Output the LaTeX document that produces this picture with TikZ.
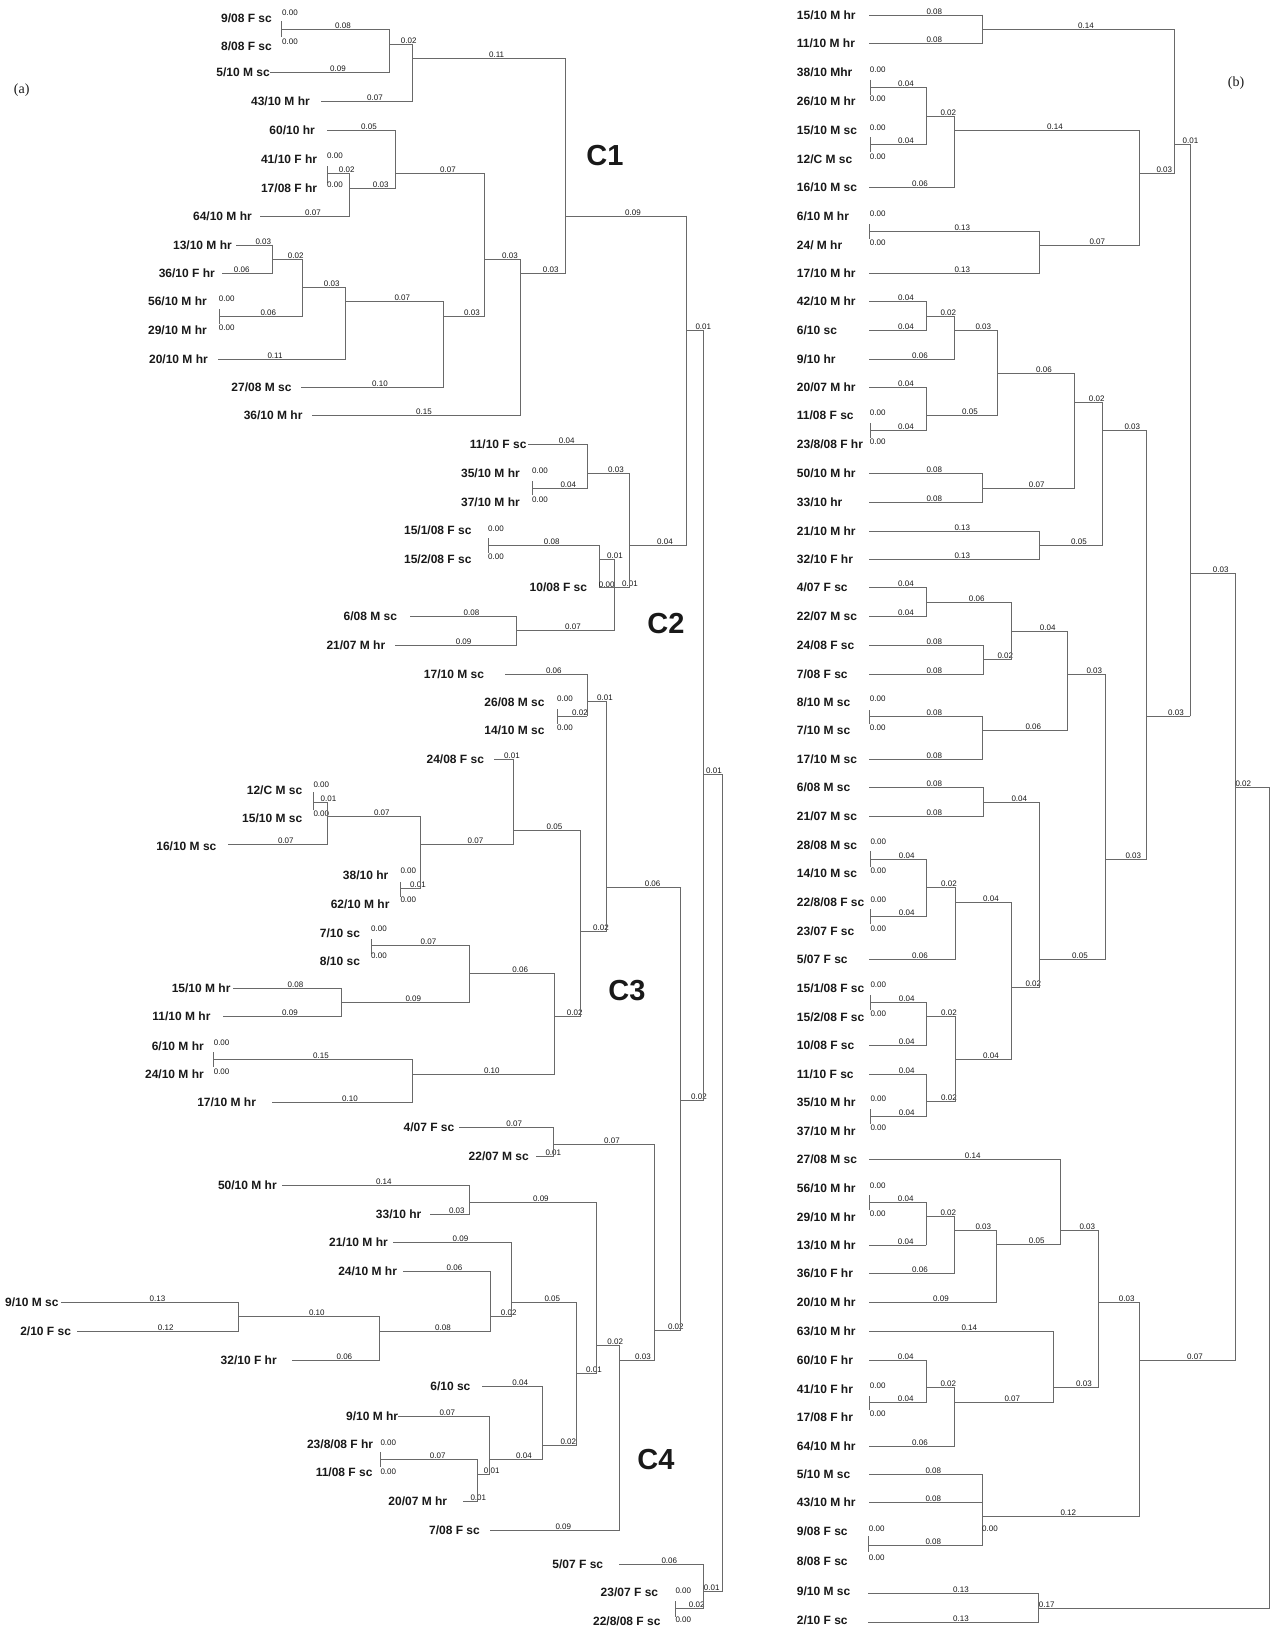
\documentclass[tikz,border=0pt]{standalone}
\usepackage{fontspec}
\setmainfont{Liberation Serif}
\newfontfamily\labfont{Liberation Sans}
\definecolor{brcol}{RGB}{105,105,105}
\definecolor{txtcol}{RGB}{25,25,25}
\tikzset{
 br/.style={draw=brcol, line width=0.9pt, line cap=rect},
 num/.style={font=\labfont\fontsize{8}{9}\selectfont, anchor=south, inner sep=0pt, yshift=0.6pt, text=txtcol},
 zer/.style={font=\labfont\fontsize{8}{9}\selectfont, inner sep=0pt, text=txtcol},
 lfa/.style={font=\labfont\bfseries\fontsize{12}{14}\selectfont, anchor=east, inner sep=0pt, text=txtcol},
 lfb/.style={font=\labfont\bfseries\fontsize{12}{14}\selectfont, anchor=west, inner sep=0pt, text=txtcol},
 clus/.style={font=\labfont\bfseries\fontsize{29}{32}\selectfont, inner sep=0pt, text=txtcol},
 pan/.style={font=\fontsize{14}{16}\selectfont, inner sep=0pt, text=txtcol}
}
\newcommand\Hb[5]{\draw[br] (#1,#3) -- (#2,#3); \node[num] at (#5,#3) {#4};}
\newcommand\Vb[3]{\draw[br] (#1,#2) -- (#1,#3);}
\newcommand\Zl[2]{\node[zer] at (#1,#2) {0.00};}
\begin{document}
\begin{tikzpicture}[x=1pt,y=-1pt]
\fill[white] (0,0) rectangle (1271,1629);
\useasboundingbox (0,0) rectangle (1271,1629);

% panel labels and clusters
\node[pan] (pa) at (21.7,90) {(a)};
\node[pan] (pb) at (1236,83.3) {(b)};
\node[clus] (c1) at (605,156) {C1};
\node[clus] (c2) at (666,624) {C2};
\node[clus] (c3) at (627,991) {C3};
\node[clus] (c4) at (656,1459) {C4};

% ===== left tree leaves =====
\node[lfa] (a1) at (272,18.3) {9/08 F sc};
\node[lfa] (a2) at (272,46.7) {8/08 F sc};
\node[lfa] (a3) at (270,72.7) {5/10 M sc};
\node[lfa] (a4) at (310,101.7) {43/10 M hr};
\node[lfa] (a5) at (315,130.7) {60/10 hr};
\node[lfa] (a6) at (317.3,159.3) {41/10 F hr};
\node[lfa] (a7) at (317.3,188.3) {17/08 F hr};
\node[lfa] (a8) at (252,216) {64/10 M hr};
\node[lfa] (a9) at (232,245) {13/10 M hr};
\node[lfa] (a10) at (215,273.3) {36/10 F hr};
\node[lfa] (a11) at (207,301.7) {56/10 M hr};
\node[lfa] (a12) at (207,330.5) {29/10 M hr};
\node[lfa] (a13) at (208,359.3) {20/10 M hr};
\node[lfa] (a14) at (291.7,387.7) {27/08 M sc};
\node[lfa] (a15) at (302.7,415.3) {36/10 M hr};
\node[lfa] (a16) at (526.7,444.7) {11/10 F sc};
\node[lfa] (a17) at (520,473.3) {35/10 M hr};
\node[lfa] (a18) at (520,502) {37/10 M hr};
\node[lfa] (a19) at (471.7,530.7) {15/1/08 F sc};
\node[lfa] (a20) at (471.7,559.3) {15/2/08 F sc};
\node[lfa] (a21) at (587.3,587.7) {10/08 F sc};
\node[lfa] (a22) at (397.3,616) {6/08 M sc};
\node[lfa] (a23) at (385.4,645.3) {21/07 M hr};
\node[lfa] (a24) at (484.2,674.3) {17/10 M sc};
\node[lfa] (a25) at (544.7,702) {26/08 M sc};
\node[lfa] (a26) at (544.7,730.7) {14/10 M sc};
\node[lfa] (a27) at (484.2,759.3) {24/08 F sc};
\node[lfa] (a28) at (302.4,790) {12/C M sc};
\node[lfa] (a29) at (302.4,818) {15/10 M sc};
\node[lfa] (a30) at (216.6,846) {16/10 M sc};
\node[lfa] (a31) at (388.5,875) {38/10 hr};
\node[lfa] (a32) at (389.7,904) {62/10 M hr};
\node[lfa] (a33) at (360.2,933.3) {7/10 sc};
\node[lfa] (a34) at (360.2,961) {8/10 sc};
\node[lfa] (a35) at (230.7,988) {15/10 M hr};
\node[lfa] (a36) at (210.7,1016.7) {11/10 M hr};
\node[lfa] (a37) at (204,1046) {6/10 M hr};
\node[lfa] (a38) at (204,1074.7) {24/10 M hr};
\node[lfa] (a39) at (256.2,1102) {17/10 M hr};
\node[lfa] (a40) at (454.5,1127.3) {4/07 F sc};
\node[lfa] (a41) at (528.9,1156) {22/07 M sc};
\node[lfa] (a42) at (276.9,1185.3) {50/10 M hr};
\node[lfa] (a43) at (421.5,1214) {33/10 hr};
\node[lfa] (a44) at (388,1242) {21/10 M hr};
\node[lfa] (a45) at (397.2,1271) {24/10 M hr};
\node[lfa] (a46) at (58.8,1302.7) {9/10 M sc};
\node[lfa] (a47) at (71.2,1331.7) {2/10 F sc};
\node[lfa] (a48) at (276.9,1360) {32/10 F hr};
\node[lfa] (a49) at (470.6,1386.7) {6/10 sc};
\node[lfa] (a50) at (398.3,1416) {9/10 M hr};
\node[lfa] (a51) at (373.3,1444) {23/8/08 F hr};
\node[lfa] (a52) at (372.7,1472.7) {11/08 F sc};
\node[lfa] (a53) at (447.3,1501) {20/07 M hr};
\node[lfa] (a54) at (480,1530.7) {7/08 F sc};
\node[lfa] (a55) at (603.3,1564) {5/07 F sc};
\node[lfa] (a56) at (658.3,1592.7) {23/07 F sc};
\node[lfa] (a57) at (660.7,1621.7) {22/8/08 F sc};

% ===== left tree branches =====
% C1
\Vb{281.7}{21.7}{36.7} \Zl{290}{12.7} \Zl{290}{41.3}
\Hb{281.7}{389}{29.7}{0.08}{343}
\Hb{270}{389}{72.7}{0.09}{338}
\Vb{389}{29.7}{72.7}
\Hb{389}{412}{44}{0.02}{408.7}
\Hb{321.7}{412}{101.7}{0.07}{375}
\Vb{412}{44}{101.7}
\Hb{412}{565.7}{58.3}{0.11}{496.7}
\Hb{327.7}{395.3}{130.7}{0.05}{369}
\Vb{327.3}{166.7}{182.7} \Zl{335}{156} \Zl{335}{185}
\Hb{327.3}{349.7}{173.3}{0.02}{346.7}
\Hb{260}{349.7}{216}{0.07}{313}
\Vb{349.7}{173.3}{216}
\Hb{349.7}{395.3}{188.3}{0.03}{380.7}
\Vb{395.3}{130.7}{188.3}
\Hb{395.3}{484.3}{173.3}{0.07}{448}
\Hb{236.7}{272.3}{245}{0.03}{263.3}
\Hb{222}{272.3}{273.3}{0.06}{241.7}
\Vb{272.3}{245}{273.3}
\Hb{272.3}{302.3}{259.3}{0.02}{295.7}
\Vb{219.3}{309.3}{323.3} \Zl{226.7}{299} \Zl{226.7}{327.7}
\Hb{219.3}{302.3}{316}{0.06}{268.3}
\Vb{302.3}{259.3}{316}
\Hb{302.3}{345}{287.3}{0.03}{331.7}
\Hb{218}{345}{359.3}{0.11}{275}
\Vb{345}{287.3}{359.3}
\Hb{345}{443.3}{301.7}{0.07}{402.3}
\Hb{301}{443.3}{387.7}{0.10}{380}
\Vb{443.3}{301.7}{387.7}
\Hb{443.3}{484.3}{316}{0.03}{472}
\Vb{484.3}{173.3}{316}
\Hb{484.3}{520}{259.3}{0.03}{510}
\Hb{312.7}{520}{415.3}{0.15}{424}
\Vb{520}{259.3}{415.3}
\Hb{520}{565.7}{273.3}{0.03}{550.7}
\Vb{565.7}{58.3}{273.3}
\Hb{565.7}{686}{216}{0.09}{633}
% C2
\Hb{528}{587.3}{444.7}{0.04}{566.7}
\Vb{532.3}{481}{495} \Zl{540}{470.7} \Zl{540}{499.3}
\Hb{532.3}{587.3}{488.3}{0.04}{568.3}
\Vb{587.3}{444.7}{488.3}
\Hb{587.3}{629}{473.3}{0.03}{616}
\Vb{488.3}{538}{553} \Zl{496}{528.7} \Zl{496}{556.7}
\Hb{488.3}{599.3}{545.7}{0.08}{551.7}
\Vb{599.3}{545.7}{587.7}
\Zl{606.7}{585}
\Hb{599.3}{614.3}{559.3}{0.01}{615}
\Hb{599.3}{629}{587.7}{0.01}{630}
\Vb{614.3}{559.3}{630.7}
\Vb{629}{473.3}{587.7}
\Hb{629}{686}{545.7}{0.04}{665}
\Hb{410}{516.2}{616}{0.08}{471.5}
\Hb{395.6}{516.2}{645.3}{0.09}{463.6}
\Vb{516.2}{616}{645.3}
\Hb{516.2}{614.3}{630.7}{0.07}{573}
\Vb{686}{216}{545.7}
\Hb{686}{703.3}{330}{0.01}{703.3}
% C3
\Hb{505}{587}{674.3}{0.06}{553.8}
\Vb{557.3}{709}{723.3} \Zl{565}{699} \Zl{565}{727.7}
\Hb{557.3}{587}{716}{0.02}{580}
\Vb{587}{674.3}{716}
\Hb{587}{606.7}{701.7}{0.01}{605}
\Hb{494.5}{513.8}{759.3}{0.01}{512}
\Vb{313.4}{792.7}{810} \Zl{321.3}{785} \Zl{321.3}{813.3}
\Hb{313.4}{327.3}{802.3}{0.01}{328.5}
\Hb{228.5}{327.3}{844.3}{0.07}{285.8}
\Vb{327.3}{802.3}{844.3}
\Hb{327.3}{420}{816}{0.07}{381.8}
\Vb{400.4}{882.7}{896.7} \Zl{408.3}{870.7} \Zl{408.3}{899.3}
\Hb{400.4}{420}{888.3}{0.01}{418}
\Vb{420}{816}{888.3}
\Hb{420}{513.8}{844.3}{0.07}{475.5}
\Vb{513.8}{759.3}{844.3}
\Hb{513.8}{580.2}{830}{0.05}{554.5}
\Vb{371.8}{939.3}{953.3} \Zl{379}{928.3} \Zl{379}{956}
\Hb{371.8}{469.3}{945}{0.07}{428.5}
\Hb{233.6}{341.6}{988}{0.08}{295.5}
\Hb{223.5}{341.6}{1016.7}{0.09}{290}
\Vb{341.6}{988}{1016.7}
\Hb{341.6}{469.3}{1002}{0.09}{413.3}
\Vb{469.3}{945}{1002}
\Hb{469.3}{554.7}{973.3}{0.06}{520.2}
\Vb{213.6}{1052.7}{1066.7} \Zl{221.6}{1042.3} \Zl{221.6}{1071.3}
\Hb{213.6}{412.5}{1059.3}{0.15}{321}
\Hb{272.5}{412.5}{1102}{0.10}{350}
\Vb{412.5}{1059.3}{1102}
\Hb{412.5}{554.7}{1074}{0.10}{491.8}
\Vb{554.7}{973.3}{1074}
\Hb{554.7}{580.2}{1016.7}{0.02}{574.7}
\Vb{580.2}{830}{1016.7}
\Hb{580.2}{606.7}{931.7}{0.02}{601}
\Vb{606.7}{701.7}{931.7}
\Hb{606.7}{681}{887.7}{0.06}{652.6}
% C4
\Hb{459}{553.3}{1127.3}{0.07}{514.2}
\Hb{536.2}{553.3}{1156}{0.01}{553.3}
\Vb{553.3}{1127.3}{1156}
\Hb{553.3}{654.3}{1144.3}{0.07}{612}
\Hb{282.4}{469.2}{1185.3}{0.14}{383.8}
\Hb{430.7}{469.2}{1214}{0.03}{456.8}
\Vb{469.2}{1185.3}{1214}
\Hb{469.2}{596}{1202.3}{0.09}{540.9}
\Hb{393.5}{511.9}{1242}{0.09}{460.5}
\Hb{403.1}{490.4}{1271}{0.06}{454.5}
\Hb{61}{238.3}{1302.7}{0.13}{157.5}
\Hb{77.1}{238.3}{1331.7}{0.12}{165.7}
\Vb{238.3}{1302.7}{1331.7}
\Hb{238.3}{379.2}{1316.7}{0.10}{316.8}
\Hb{292.9}{379.2}{1360}{0.06}{344.4}
\Vb{379.2}{1316.7}{1360}
\Hb{379.2}{490.4}{1331}{0.08}{443}
\Vb{490.4}{1271}{1331}
\Hb{490.4}{511.9}{1316.7}{0.02}{508.7}
\Vb{511.9}{1242}{1316.7}
\Hb{511.9}{576.2}{1302.3}{0.05}{552.3}
\Hb{482}{542.7}{1386.7}{0.04}{520.2}
\Hb{398.3}{489.3}{1416}{0.07}{447.3}
\Vb{380.7}{1452.7}{1466.7} \Zl{388.3}{1442.7} \Zl{388.3}{1471.3}
\Hb{380.7}{477.7}{1459.3}{0.07}{437.7}
\Hb{463.3}{477.7}{1501.7}{0.01}{478.3}
\Vb{477.7}{1459.3}{1501.7}
\Hb{477.7}{489.3}{1474}{0.01}{491.7}
\Vb{489.3}{1416}{1474}
\Hb{489.3}{542.7}{1459.3}{0.04}{524}
\Vb{542.7}{1386.7}{1459.3}
\Hb{542.7}{576.2}{1445}{0.02}{568.3}
\Vb{576.2}{1302.3}{1445}
\Hb{576.2}{596}{1373.3}{0.01}{594}
\Vb{596}{1202.3}{1373.3}
\Hb{596}{619.4}{1345.3}{0.02}{615.2}
\Hb{490.7}{619.4}{1530.7}{0.09}{563.3}
\Vb{619.4}{1345.3}{1530.7}
\Hb{619.4}{654.3}{1360}{0.03}{643}
\Vb{654.3}{1144.3}{1360}
\Hb{654.3}{680.7}{1330.7}{0.02}{675.8}
\Vb{680.7}{887.7}{1330.7}
\Hb{680.7}{703.3}{1100.6}{0.02}{699}
\Vb{703.3}{330}{1100.6}
\Hb{703.3}{722.3}{774.3}{0.01}{714}
\Vb{722.3}{774.3}{1591.7}
\Hb{619.3}{703.3}{1564}{0.06}{669.3}
\Vb{675}{1601.7}{1616.7} \Zl{683.3}{1591} \Zl{683.3}{1620}
\Hb{675}{703.3}{1608.3}{0.02}{696.7}
\Vb{703.3}{1564}{1608.3}
\Hb{703.3}{722.3}{1591.7}{0.01}{711.7}

% ===== right tree leaves =====
\foreach \n/\yy/\tx in {
 b1/15/15\slash10 M hr, b2/43.7/11\slash10 M hr, b3/72.3/38\slash10 Mhr,
 b4/101/26\slash10 M hr, b5/130/15\slash10 M sc, b6/159/12\slash C M sc,
 b7/187.7/16\slash10 M sc, b8/216.7/6\slash10 M hr, b9/245/24\slash{} M hr,
 b10/273.3/17\slash10 M hr, b11/301.7/42\slash10 M hr, b12/330.3/6\slash10 sc,
 b13/359/9\slash10 hr, b14/387.7/20\slash07 M hr, b15/415.7/11\slash08 F sc,
 b16/444.3/23\slash8\slash08 F hr, b17/473.3/50\slash10 M hr, b18/502.3/33\slash10 hr,
 b19/531/21\slash10 M hr, b20/559.3/32\slash10 F hr, b21/587.7/4\slash07 F sc,
 b22/616.7/22\slash07 M sc, b23/645.3/24\slash08 F sc, b24/674.3/7\slash08 F sc,
 b25/702/8\slash10 M sc, b26/730.7/7\slash10 M sc, b27/759.3/17\slash10 M sc,
 b28/787.7/6\slash08 M sc, b29/816.3/21\slash07 M sc, b30/845/28\slash08 M sc,
 b31/873.7/14\slash10 M sc, b32/902.7/22\slash8\slash08 F sc, b33/931.7/23\slash07 F sc,
 b34/959.3/5\slash07 F sc, b35/988.3/15\slash1\slash08 F sc, b36/1017/15\slash2\slash08 F sc,
 b37/1045.7/10\slash08 F sc, b38/1074.7/11\slash10 F sc, b39/1102.3/35\slash10 M hr,
 b40/1131/37\slash10 M hr, b41/1159.7/27\slash08 M sc, b42/1188.7/56\slash10 M hr,
 b43/1217.3/29\slash10 M hr, b44/1245/13\slash10 M hr, b45/1273.3/36\slash10 F hr,
 b46/1302.7/20\slash10 M hr, b47/1331.7/63\slash10 M hr, b48/1360.7/60\slash10 F hr,
 b49/1389/41\slash10 F hr, b50/1417.7/17\slash08 F hr, b51/1446/64\slash10 M hr,
 b52/1474.3/5\slash10 M sc, b53/1502.3/43\slash10 M hr, b54/1531.7/9\slash08 F sc,
 b55/1561/8\slash08 F sc, b56/1591/9\slash10 M sc, b57/1620/2\slash10 F sc}
 {\node[lfb] (\n) at (796.7,\yy) {\tx};}

% ===== right tree branches =====
\Hb{869.3}{982.3}{15}{0.08}{934.3}
\Hb{869.3}{982.3}{43.7}{0.08}{934.3}
\Vb{982.3}{15}{43.7}
\Hb{982.3}{1174.3}{29.7}{0.14}{1086}
\Vb{870}{80}{95} \Zl{877.7}{70} \Zl{877.7}{99}
\Hb{870}{926.3}{87.3}{0.04}{906}
\Vb{870}{137.7}{151.7} \Zl{877.7}{127.7} \Zl{877.7}{156.3}
\Hb{870}{926.3}{144.7}{0.04}{906}
\Vb{926.3}{87.3}{144.7}
\Hb{926.3}{954.3}{116.3}{0.02}{948.3}
\Hb{869.3}{954.3}{187.7}{0.06}{920}
\Vb{954.3}{116.3}{187.7}
\Hb{954.3}{1139}{130.3}{0.14}{1055}
\Vb{869.3}{224.3}{238.3} \Zl{877.7}{213.7} \Zl{877.7}{242.3}
\Hb{869.3}{1039.3}{231}{0.13}{962.3}
\Hb{869.3}{1039.3}{273.3}{0.13}{962.3}
\Vb{1039.3}{231}{273.3}
\Hb{1039.3}{1139}{245.7}{0.07}{1097.3}
\Vb{1139}{130.3}{245.7}
\Hb{1139}{1174.3}{173.3}{0.03}{1164.3}
\Vb{1174.3}{29.7}{173.3}
\Hb{1174.3}{1190}{144.7}{0.01}{1190.5}
\Vb{1190}{144.7}{716}

\Hb{869.3}{926.3}{301.7}{0.04}{906}
\Hb{869.3}{926.3}{330.3}{0.04}{906}
\Vb{926.3}{301.7}{330.3}
\Hb{926.3}{954.3}{316}{0.02}{948.3}
\Hb{869.3}{954.3}{359}{0.06}{920}
\Vb{954.3}{316}{359}
\Hb{954.3}{997.3}{330.3}{0.03}{983.3}
\Hb{869.3}{926.3}{387.7}{0.04}{906}
\Vb{870}{423.3}{437.3} \Zl{877.7}{412.7} \Zl{877.7}{441.7}
\Hb{870}{926.3}{430}{0.04}{906}
\Vb{926.3}{387.7}{430}
\Hb{926.3}{997.3}{415.7}{0.05}{970}
\Vb{997.3}{330.3}{415.7}
\Hb{997.3}{1074.3}{373.3}{0.06}{1044}
\Hb{869.3}{982.3}{473.3}{0.08}{934.3}
\Hb{869.3}{982.3}{502.3}{0.08}{934.3}
\Vb{982.3}{473.3}{502.3}
\Hb{982.3}{1074.3}{488}{0.07}{1036.7}
\Vb{1074.3}{373.3}{488}
\Hb{1074.3}{1102.7}{402.3}{0.02}{1096.7}
\Hb{869.3}{1039.3}{531}{0.13}{962.3}
\Hb{869.3}{1039.3}{559.3}{0.13}{962.3}
\Vb{1039.3}{531}{559.3}
\Hb{1039.3}{1102.7}{545.3}{0.05}{1079}
\Vb{1102.7}{402.3}{545.3}
\Hb{1102.7}{1146.7}{430}{0.03}{1132.3}
\Vb{1146.7}{430}{859.3}
\Hb{1146.7}{1190}{716}{0.03}{1176}
\Hb{1190}{1235.3}{573.3}{0.03}{1220.7}

\Hb{869.3}{926.3}{587.7}{0.04}{906}
\Hb{869.3}{926.3}{616.7}{0.04}{906}
\Vb{926.3}{587.7}{616.7}
\Hb{926.3}{1011.7}{602.3}{0.06}{976.7}
\Hb{869.3}{983.3}{645.3}{0.08}{934.3}
\Hb{869.3}{983.3}{674.3}{0.08}{934.3}
\Vb{983.3}{645.3}{674.3}
\Hb{983.3}{1011.7}{659.7}{0.02}{1005.3}
\Vb{1011.7}{602.3}{659.7}
\Hb{1011.7}{1067.3}{631}{0.04}{1047.7}
\Vb{869.3}{710}{724} \Zl{877.7}{699} \Zl{877.7}{727.7}
\Hb{869.3}{982.7}{716.7}{0.08}{934.3}
\Hb{869.3}{982.7}{759.3}{0.08}{934.3}
\Vb{982.7}{716.7}{759.3}
\Hb{982.7}{1067.3}{730}{0.06}{1033.3}
\Vb{1067.3}{631}{730}
\Hb{1067.3}{1105}{674}{0.03}{1094.3}
\Hb{869.3}{983.3}{787.7}{0.08}{934.3}
\Hb{869.3}{983.3}{816.3}{0.08}{934.3}
\Vb{983.3}{787.7}{816.3}
\Hb{983.3}{1039.3}{802.3}{0.04}{1019.3}
\Vb{870.7}{851.7}{866.7} \Zl{878.3}{841.7} \Zl{878.3}{870.7}
\Hb{870.7}{926.7}{859}{0.04}{906.7}
\Vb{870.7}{909.3}{924} \Zl{878.3}{899.3} \Zl{878.3}{928.3}
\Hb{870.7}{926.7}{916.7}{0.04}{906.7}
\Vb{926.7}{859}{916.7}
\Hb{926.7}{955}{887.7}{0.02}{949}
\Hb{869.3}{955}{959.3}{0.06}{920}
\Vb{955}{887.7}{959.3}
\Hb{955}{1011.7}{902.3}{0.04}{991}
\Vb{870.7}{995.7}{1010} \Zl{878.3}{985} \Zl{878.3}{1013.7}
\Hb{870.7}{926.7}{1002.3}{0.04}{906.7}
\Hb{869.3}{926.7}{1045.7}{0.04}{906.7}
\Vb{926.7}{1002.3}{1045.7}
\Hb{926.7}{955}{1016.3}{0.02}{949}
\Hb{869.3}{926.7}{1074.7}{0.04}{906.7}
\Vb{870.7}{1109.3}{1123.3} \Zl{878.3}{1099} \Zl{878.3}{1127.7}
\Hb{870.7}{926.7}{1116}{0.04}{906.7}
\Vb{926.7}{1074.7}{1116}
\Hb{926.7}{955}{1101.7}{0.02}{949}
\Vb{955}{1016.3}{1101.7}
\Hb{955}{1011.7}{1059}{0.04}{991}
\Vb{1011.7}{902.3}{1059}
\Hb{1011.7}{1039.3}{987.7}{0.02}{1033.3}
\Vb{1039.3}{802.3}{987.7}
\Hb{1039.3}{1105}{959.3}{0.05}{1080}
\Vb{1105}{674}{959.3}
\Hb{1105}{1146.7}{859.3}{0.03}{1133.3}

\Hb{869.3}{1060.7}{1159.7}{0.14}{972.7}
\Vb{869.3}{1195.7}{1210} \Zl{877.7}{1185.3} \Zl{877.7}{1214}
\Hb{869.3}{926}{1202.7}{0.04}{905.7}
\Hb{869.3}{926}{1245}{0.04}{905.7}
\Vb{926}{1202.7}{1245}
\Hb{926}{954.3}{1216.7}{0.02}{948.3}
\Hb{869.3}{954.3}{1273.3}{0.06}{920}
\Vb{954.3}{1216.7}{1273.3}
\Hb{954.3}{996.7}{1230.7}{0.03}{983.3}
\Hb{869.3}{996.7}{1302.7}{0.09}{941}
\Vb{996.7}{1230.7}{1302.7}
\Hb{996.7}{1060.7}{1244.7}{0.05}{1036.7}
\Vb{1060.7}{1159.7}{1244.7}
\Hb{1060.7}{1098.3}{1230.7}{0.03}{1087.3}
\Hb{869.3}{1053.3}{1331.7}{0.14}{969.3}
\Hb{869.3}{926}{1360.7}{0.04}{905.7}
\Vb{869.3}{1396}{1410} \Zl{877.7}{1385.3} \Zl{877.7}{1414}
\Hb{869.3}{926}{1402.3}{0.04}{905.7}
\Vb{926}{1360.7}{1402.3}
\Hb{926}{954.3}{1387.7}{0.02}{948.3}
\Hb{869.3}{954.3}{1446}{0.06}{920}
\Vb{954.3}{1387.7}{1446}
\Hb{954.3}{1053.3}{1402.3}{0.07}{1012.3}
\Vb{1053.3}{1331.7}{1402.3}
\Hb{1053.3}{1098.3}{1387.7}{0.03}{1084}
\Vb{1098.3}{1230.7}{1387.7}
\Hb{1098.3}{1139}{1302.7}{0.03}{1126.7}
\Hb{869.3}{982.3}{1474.3}{0.08}{933.3}
\Hb{869.3}{982.3}{1502.3}{0.08}{933.3}
\Vb{868.7}{1536.7}{1551.7} \Zl{876.7}{1528.3} \Zl{876.7}{1557.3}
\Hb{868.7}{982.3}{1545.3}{0.08}{933.3}
\Vb{982.3}{1474.3}{1545.3}
\Zl{990}{1528.3}
\Hb{982.3}{1139}{1516.7}{0.12}{1068.3}
\Vb{1139}{1302.7}{1516.7}
\Hb{1139}{1235.3}{1360}{0.07}{1195}
\Vb{1235.3}{573.3}{1360}
\Hb{1235.3}{1269}{787.7}{0.02}{1243.3}
\Vb{1269}{787.7}{1608.3}
\Hb{868.3}{1038.3}{1593.7}{0.13}{961}
\Hb{868.3}{1038.3}{1622.7}{0.13}{961}
\Vb{1038.3}{1593.7}{1622.7}
\Hb{1038.3}{1269}{1608.3}{0.17}{1046.7}
\end{tikzpicture}
\end{document}
